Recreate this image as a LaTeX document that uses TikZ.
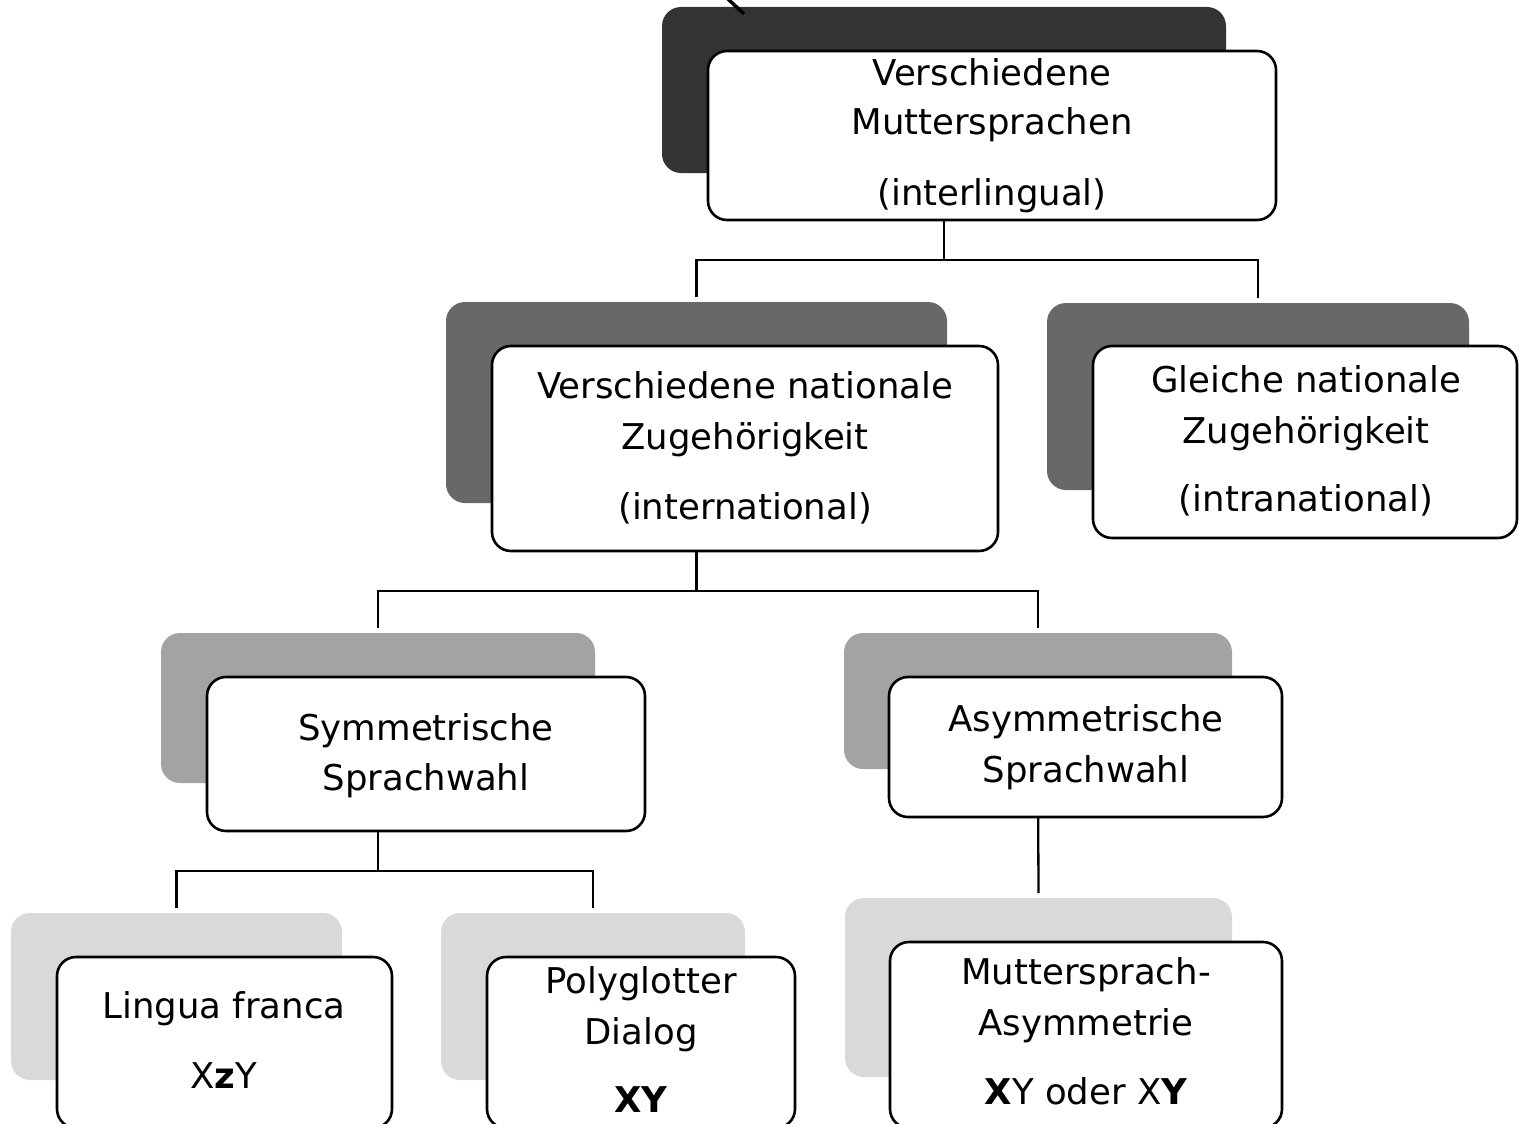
\documentclass[tikz,border=0pt]{standalone}
\usepackage{fontspec}
\setmainfont{DejaVu Sans}
\definecolor{levelA}{HTML}{333333}
\definecolor{levelB}{HTML}{686868}
\definecolor{levelC}{HTML}{A3A3A3}
\definecolor{levelD}{HTML}{D9D9D9}
\begin{document}
\begin{tikzpicture}[x=1pt,y=-1pt,
  card/.style={rectangle, rounded corners=19pt, inner sep=0pt, outer sep=0pt},
  backA/.style={card, fill=levelA},
  backB/.style={card, fill=levelB},
  backC/.style={card, fill=levelC},
  backD/.style={card, fill=levelD},
  front/.style={card, draw=black, line width=2.6pt, fill=white},
  link/.style={draw=black, line width=2.3pt},
  lbl/.style={anchor=base, inner sep=0pt, outer sep=0pt, font=\fontsize{35.5}{42}\selectfont}]
\useasboundingbox (0,0) rectangle (1519,1124);
\clip (0,0) rectangle (1519,1124);

% branch heights of the tree
\coordinate (r1) at (0,260);
\coordinate (r2) at (0,591);
\coordinate (r3) at (0,871);

% back plates
\node[backA, minimum width=564pt, minimum height=166pt] (s1) at (944,90) {};
\node[backB, minimum width=501pt, minimum height=201pt] (s2) at (696.5,402.5) {};
\node[backB, minimum width=422pt, minimum height=187pt] (s3) at (1258,396.5) {};
\node[backC, minimum width=434pt, minimum height=150pt] (s4) at (378,708) {};
\node[backC, minimum width=388pt, minimum height=136pt] (s5) at (1038,701) {};
\node[backD, minimum width=331pt, minimum height=167pt] (s6) at (176.5,996.5) {};
\node[backD, minimum width=304pt, minimum height=167pt] (s7) at (593,996.5) {};
\node[backD, minimum width=387pt, minimum height=179pt] (s8) at (1038.5,987.5) {};

% connectors
\draw[link] (s1.south) -- (s1.south |- r1);
\draw[link] ([yshift=5pt]s2.north) |- (s1.south |- r1) -| ([yshift=5pt]s3.north);
\draw[link] (s2.south) -- (s2.south |- r2);
\draw[link] ([yshift=5pt]s4.north) |- (s2.south |- r2) -| ([yshift=5pt]s5.north);
\draw[link] (s4.south) -- (s4.south |- r3);
\draw[link] ([yshift=5pt]s6.north) |- (s4.south |- r3) -| ([yshift=5pt]s7.north);
\draw[link] (s5.south) -- ([yshift=5pt]s8.north);

% front cards
\node[front, minimum width=568pt, minimum height=169pt] (w1) at (992,135.5) {};
\node[front, minimum width=506pt, minimum height=205pt] (w2) at (745,448.5) {};
\node[front, minimum width=424pt, minimum height=192pt] (w3) at (1305,442) {};
\node[front, minimum width=438pt, minimum height=154pt] (w4) at (426,754) {};
\node[front, minimum width=393pt, minimum height=140pt] (w5) at (1085.5,747) {};
\node[front, minimum width=335pt, minimum height=171pt] (w6) at (224.5,1042.5) {};
\node[front, minimum width=308pt, minimum height=171pt] (w7) at (641,1042.5) {};
\node[front, minimum width=392pt, minimum height=186pt] (w8) at (1086,1035) {};

% card texts
\node[lbl] (t1a) at (992,85) {Verschiedene};
\node[lbl] (t1b) at (992,135) {Muttersprachen};
\node[lbl] (t1c) at (992,205) {(interlingual)};

\node[lbl] (t2a) at (745,398) {Verschiedene nationale};
\node[lbl] (t2b) at (745,449) {Zugehörigkeit};
\node[lbl] (t2c) at (745,519) {(international)};

\node[lbl] (t3a) at (1306,392) {Gleiche nationale};
\node[lbl] (t3b) at (1306,443) {Zugehörigkeit};
\node[lbl] (t3c) at (1306,511) {(intranational)};

\node[lbl] (t4a) at (426,740) {Symmetrische};
\node[lbl] (t4b) at (426,790) {Sprachwahl};

\node[lbl] (t5a) at (1086,731) {Asymmetrische};
\node[lbl] (t5b) at (1086,782) {Sprachwahl};

\node[lbl] (t6a) at (224,1018) {Lingua franca};
\node[lbl] (t6b) at (224,1088) {X{\bfseries z}Y};

\node[lbl] (t7a) at (641,993) {Polyglotter};
\node[lbl] (t7b) at (641,1044) {Dialog};
\node[lbl] (t7c) at (641,1112) {\bfseries XY};

\node[lbl] (t8a) at (1086,984) {Muttersprach-};
\node[lbl] (t8b) at (1086,1035) {Asymmetrie};
\node[lbl] (t8c) at (1086,1104) {{\bfseries X}Y oder X{\bfseries Y}};

% stray stroke at the upper edge
\draw[line width=3.5pt] (728,-1) -- (744,14);
\end{tikzpicture}
\end{document}
